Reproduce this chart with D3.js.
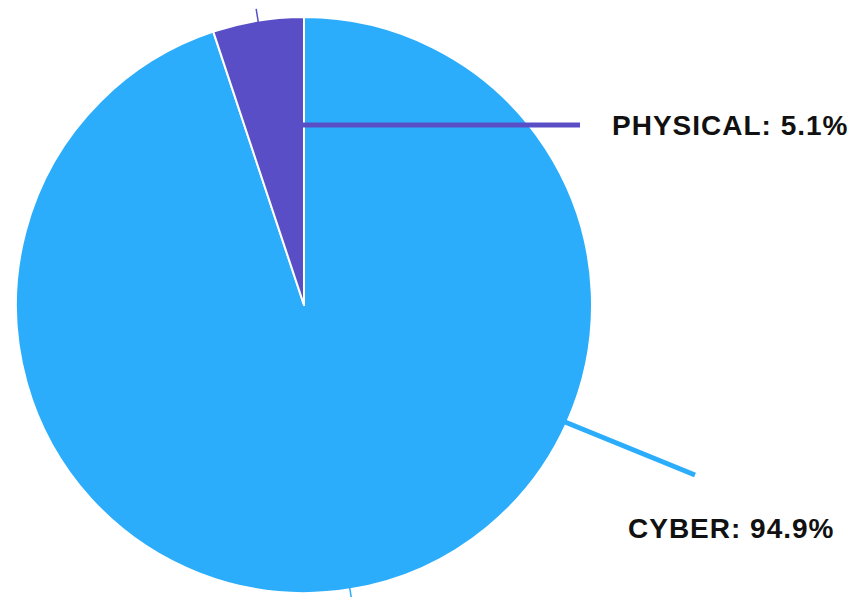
<!DOCTYPE html>
<html>
<head>
<meta charset="utf-8">
<script src="https://cdn.jsdelivr.net/npm/d3@7"></script>
<style>
  html, body { margin: 0; padding: 0; background: #fff; }
  svg { display: block; }
  .lbl { font-family: "Liberation Sans", Arial, sans-serif; font-weight: bold; font-size: 28px; letter-spacing: 1px; fill: #111; }
</style>
</head>
<body>
<svg id="chart" width="854" height="597"></svg>
<script>
// Share of incidents by type
const categories = ["CYBER", "PHYSICAL"];
const values = [94.9, 5.1];
const colors = ["#2BADFB", "#5A4EC6"];

const svg = d3.select("#chart");
const cx = 304, cy = 305, radius = 288;
const g = svg.append("g").attr("transform", `translate(${cx},${cy})`);

const pie = d3.pie().sort(null).value(d => d.value);
const arcs = pie(categories.map((c, i) => ({ name: c, value: values[i], color: colors[i] })));

const arc = d3.arc().innerRadius(0).outerRadius(radius);

g.selectAll("path.slice")
  .data(arcs)
  .join("path")
  .attr("class", "slice")
  .attr("d", arc)
  .attr("fill", d => d.data.color)
  .attr("stroke", "#fff")
  .attr("stroke-width", 2)
  .attr("stroke-linejoin", "round");

// small outer ticks at each slice's mid-angle
const midA = d => (d.startAngle + d.endAngle) / 2;
g.selectAll("line.tick")
  .data(arcs)
  .join("line")
  .attr("class", "tick")
  .attr("x1", d => Math.sin(midA(d)) * (radius - 2))
  .attr("y1", d => -Math.cos(midA(d)) * (radius - 2))
  .attr("x2", d => Math.sin(midA(d)) * (radius + 12))
  .attr("y2", d => -Math.cos(midA(d)) * (radius + 12))
  .attr("stroke", d => d.data.color)
  .attr("stroke-width", 1.5);

// leader lines and labels (positions relative to the pie centre)
const leaders = {
  PHYSICAL: { from: [-1, -180], to: [276, -180], text: [308, -170] },
  CYBER: { from: [261, 117], to: [391, 170], text: [324, 233] }
};

arcs.forEach(d => {
  const L = leaders[d.data.name];
  g.append("line")
    .attr("x1", L.from[0]).attr("y1", L.from[1])
    .attr("x2", L.to[0]).attr("y2", L.to[1])
    .attr("stroke", d.data.color)
    .attr("stroke-width", 5);
  g.append("text")
    .attr("class", "lbl")
    .attr("x", L.text[0]).attr("y", L.text[1])
    .text(`${d.data.name}: ${d.data.value}%`);
});
</script>
</body>
</html>
